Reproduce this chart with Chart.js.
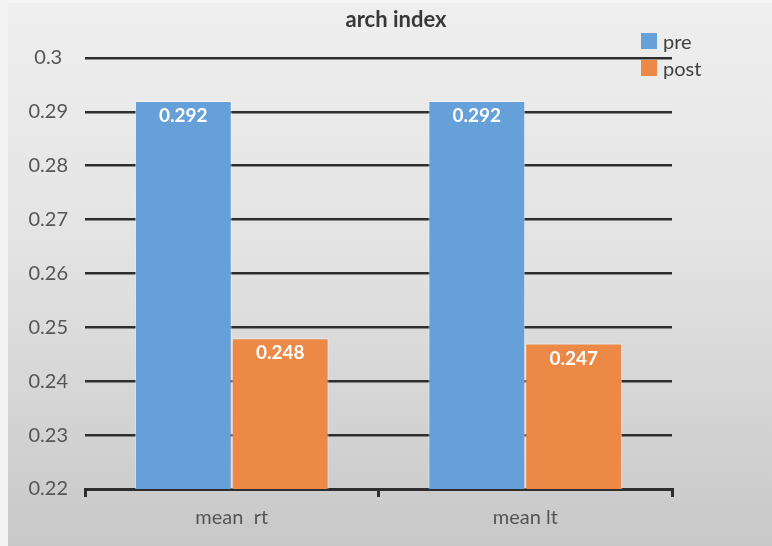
<!DOCTYPE html>
<html>
<head>
<meta charset="utf-8">
<script src="https://cdn.jsdelivr.net/npm/chart.js@4/dist/chart.umd.min.js"></script>
<style>
  html, body { margin: 0; padding: 0; background: #f4f4f4; }
  #wrap { position: relative; width: 772px; height: 546px; overflow: hidden; }
  #bg { position: absolute; left: 8px; top: 3px; right: 0; bottom: 0;
        background: linear-gradient(to bottom, #efefef 0%, #e3e3e3 45%, #c8c8c8 100%); }
  #c { position: absolute; left: 0; top: 0; }
  #title { position: absolute; left: 296px; width: 200px; top: 5px; text-align: center;
           font: bold 22px Lato, sans-serif; color: #383838; }
  #legend { position: absolute; left: 641px; top: 27px; font: 20px Lato, sans-serif; color: #404040; }
  .li { display: flex; align-items: center; height: 27px; }
  .sw { width: 16px; height: 16px; margin-right: 6px; }
</style>
</head>
<body>
<div id="wrap">
  <div id="bg"></div>
  <canvas id="c" width="772" height="546"></canvas>
  <div id="title"></div>
  <div id="legend"></div>
</div>
<script>
const chartTitle = 'arch index';
const categories = ['mean  rt', 'mean lt'];
const seriesNames = ['pre', 'post'];
const preValues = [0.292, 0.292];
const postValues = [0.248, 0.247];
const yTicks = [0.22, 0.23, 0.24, 0.25, 0.26, 0.27, 0.28, 0.29, 0.3];
const yTickLabels = ['0.22', '0.23', '0.24', '0.25', '0.26', '0.27', '0.28', '0.29', '0.3'];

const colors = ['#66a0d8', '#ec8946'];
const gridColor = '#2e2e2e';

document.getElementById('title').textContent = chartTitle;
const leg = document.getElementById('legend');
seriesNames.forEach((n, i) => {
  const d = document.createElement('div'); d.className = 'li';
  const s = document.createElement('div'); s.className = 'sw'; s.style.background = colors[i];
  const t = document.createElement('span'); t.textContent = n;
  d.appendChild(s); d.appendChild(t); leg.appendChild(d);
});

const valueLabels = {
  id: 'valueLabels',
  afterDatasetsDraw(chart) {
    const ctx = chart.ctx;
    ctx.save();
    ctx.font = 'bold 19px Lato, sans-serif';
    ctx.fillStyle = '#ffffff';
    ctx.textAlign = 'center';
    ctx.textBaseline = 'middle';
    chart.data.datasets.forEach((ds, di) => {
      const meta = chart.getDatasetMeta(di);
      meta.data.forEach((bar, i) => {
        ctx.fillText(ds.data[i].toFixed(3), bar.x, bar.y + 15);
      });
    });
    ctx.restore();
  }
};

new Chart(document.getElementById('c'), {
  type: 'bar',
  data: {
    labels: categories,
    datasets: [
      { label: seriesNames[0], data: preValues, backgroundColor: colors[0],
        borderColor: 'rgba(255,255,255,0.5)', borderWidth: 1 },
      { label: seriesNames[1], data: postValues, backgroundColor: colors[1],
        borderColor: 'rgba(255,255,255,0.5)', borderWidth: 1 }
    ]
  },
  options: {
    responsive: false,
    animation: false,
    layout: { padding: { left: 0, right: 100, top: 58, bottom: 0 } },
    plugins: { legend: { display: false }, title: { display: false }, tooltip: { enabled: false } },
    datasets: { bar: { categoryPercentage: 0.66, barPercentage: 1.0 } },
    scales: {
      x: {
        grid: { display: true, offset: true, drawOnChartArea: false, drawTicks: true,
                tickLength: 8, color: gridColor, lineWidth: 3 },
        border: { display: true, color: gridColor, width: 3 },
        ticks: { color: '#555555', font: { family: 'Lato, sans-serif', size: 20 }, padding: 9 },
        afterFit(s) { s.height = 57; }
      },
      y: {
        min: 0.22, max: 0.3,
        afterBuildTicks(s) { s.ticks = yTicks.map(v => ({ value: v })); },
        ticks: {
          crossAlign: 'center', padding: 17,
          color: '#555555', font: { family: 'Lato, sans-serif', size: 20 },
          callback(v, i) { return yTickLabels[i]; }
        },
        grid: { color: gridColor, lineWidth: 2.5, drawTicks: false },
        border: { display: false },
        afterFit(s) { s.width = 85; }
      }
    }
  },
  plugins: [valueLabels]
});
</script>
</body>
</html>
